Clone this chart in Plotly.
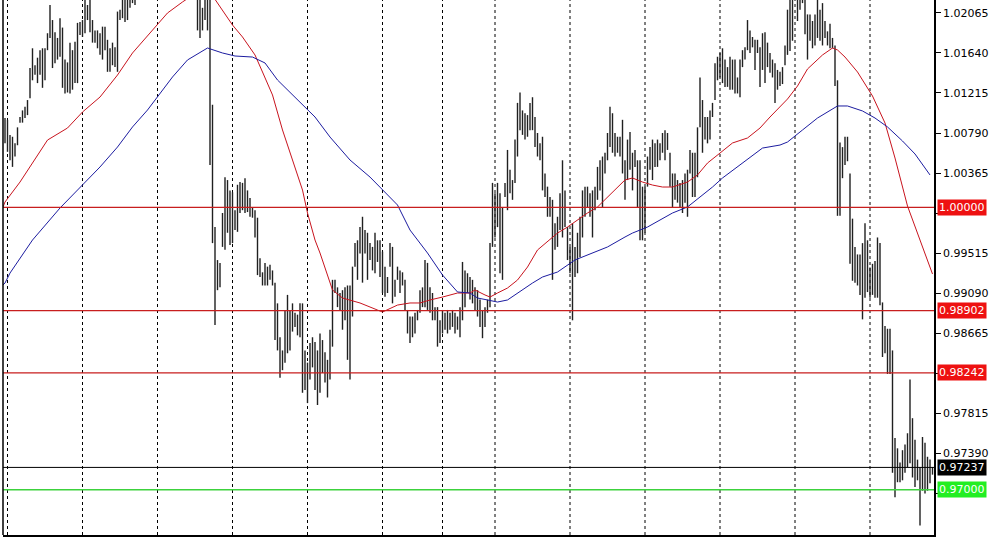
import plotly.graph_objects as go

# ---------------- data (prices) ----------------
# bar highs / lows, segment by segment (left to right)
high_a = [1.0095,1.0093,1.0077,1.0075,1.0068,1.0085,1.0096,1.0103,1.0107,1.0114,
          1.0148,1.0169,1.0151,1.0159,1.0167,1.0169,1.0169,1.0185,1.0215,1.0199,
          1.0186,1.0180,1.0201,1.0191,1.0157,1.0154,1.0175,1.0167,1.0176,1.0196,
          1.0197,1.0199,1.0222,1.0215,1.0222,1.0199,1.0188,1.0188,1.0185,1.0192,
          1.0192,1.0178,1.0169,1.0175,1.0170,1.0208,1.0210,1.0224,1.0223,1.0225,
          1.0228,1.0230,1.0229]
low_a = [1.0068,1.0059,1.0050,1.0043,1.0054,1.0066,1.0090,1.0090,1.0095,1.0098,
         1.0116,1.0135,1.0141,1.0132,1.0141,1.0127,1.0135,1.0167,1.0180,1.0148,
         1.0153,1.0157,1.0160,1.0127,1.0121,1.0122,1.0121,1.0125,1.0132,1.0132,
         1.0183,1.0181,1.0185,1.0199,1.0186,1.0175,1.0175,1.0169,1.0162,1.0157,
         1.0167,1.0144,1.0144,1.0151,1.0149,1.0144,1.0199,1.0201,1.0197,1.0199,
         1.0212,1.0217,1.0215]
high_b = [1.0232,1.0236,1.0240,1.0238,1.0244,1.0248,1.0245,1.0250,1.0253,1.0249,
          1.0255,1.0258,1.0252,1.0256,1.0250,1.0253,1.0247,1.0243,1.0246,1.0240,
          1.0237,1.0241,1.0235,1.0232]
low_b = [1.0223,1.0225,1.0228,1.0226,1.0231,1.0235,1.0232,1.0237,1.0240,1.0236,
         1.0242,1.0245,1.0239,1.0243,1.0237,1.0240,1.0234,1.0230,1.0233,1.0228,
         1.0225,1.0228,1.0224,1.0223]
high_c = [1.0226,1.0224,1.0212,1.0228,1.0225,1.0222,1.0109,0.9979,0.9944,0.9941,
          0.9994,1.0032,1.0029,1.0018,1.0016,0.9997,1.0024,1.0027,1.0026,1.0031,
          1.0018,1.0010,1.0000,0.9997,0.9989,0.9946,0.9931,0.9941,0.9937,0.9939,
          0.9933,0.9920,0.9898,0.9862,0.9848,0.9891,0.9907,0.9891,0.9898,0.9888,
          0.9886,0.9898,0.9898,0.9848,0.9835,0.9856,0.9862,0.9857]
low_c = [1.0188,1.0180,1.0188,1.0199,1.0188,1.0045,0.9962,0.9875,0.9912,0.9915,
         0.9958,0.9955,0.9973,0.9960,0.9962,0.9976,0.9974,0.9994,0.9997,0.9994,
         0.9995,0.9990,0.9989,0.9968,0.9928,0.9926,0.9917,0.9917,0.9917,0.9923,
         0.9917,0.9859,0.9848,0.9819,0.9827,0.9835,0.9845,0.9848,0.9868,0.9873,
         0.9864,0.9862,0.9803,0.9806,0.9792,0.9817,0.9830,0.9806]
high_d = [0.9848,0.9866,0.9859,0.9846,0.9838,0.9870,0.9923,0.9923,0.9915,0.9909,
          0.9912,0.9915,0.9917,0.9917,0.9937,0.9962,0.9965,0.9979,0.9990,0.9976,
          0.9973,0.9962,0.9958,0.9973,0.9965,0.9965,0.9953,0.9937,0.9926,0.9962,
          0.9958,0.9923,0.9937,0.9933,0.9931,0.9923,0.9891,0.9884,0.9884,0.9888,
          0.9891,0.9912,0.9915,0.9944,0.9941,0.9915,0.9909,0.9894,0.9894,0.9880,
          0.9891,0.9888,0.9891,0.9888,0.9891,0.9888,0.9884,0.9894,0.9942,0.9933]
low_d = [0.9790,0.9803,0.9824,0.9814,0.9798,0.9817,0.9852,0.9909,0.9894,0.9891,
         0.9870,0.9880,0.9838,0.9817,0.9884,0.9937,0.9923,0.9951,0.9920,0.9951,
         0.9923,0.9944,0.9933,0.9930,0.9942,0.9926,0.9909,0.9905,0.9909,0.9937,
         0.9898,0.9905,0.9923,0.9909,0.9917,0.9891,0.9866,0.9856,0.9862,0.9866,
         0.9880,0.9888,0.9894,0.9894,0.9891,0.9888,0.9880,0.9880,0.9852,0.9856,
         0.9866,0.9870,0.9866,0.9870,0.9873,0.9866,0.9870,0.9862,0.9880,0.9894]
high_e = [0.9930,0.9926,0.9923,0.9915,0.9912,0.9902,0.9891,0.9894,0.9902,0.9962,
          1.0026,1.0015,1.0026,1.0015,1.0000,1.0026,1.0061,1.0040,1.0029,1.0072,
          1.0111,1.0122,1.0103,1.0100,1.0098,1.0111,1.0117,1.0096,1.0079,1.0068,
          1.0075,1.0036,1.0022,1.0011,1.0008,0.9983,0.9990,1.0015,1.0050,1.0018,
          0.9979,0.9958,0.9983,0.9958,0.9973,0.9990,1.0018,1.0022,1.0022,1.0015,
          1.0018,1.0022,1.0043,1.0050,1.0054,1.0058,1.0079,1.0107,1.0100,1.0079,
          1.0075,1.0075,1.0093]
low_e = [0.9909,0.9902,0.9898,0.9891,0.9884,0.9873,0.9861,0.9873,0.9888,0.9894,
         0.9958,0.9968,0.9979,0.9930,0.9923,1.0011,0.9997,1.0015,1.0008,1.0026,
         1.0054,1.0082,1.0077,1.0072,1.0075,1.0082,1.0082,1.0064,1.0054,1.0050,
         1.0018,1.0011,0.9990,0.9990,0.9923,0.9955,0.9958,0.9976,0.9968,0.9979,
         0.9944,0.9930,0.9880,0.9926,0.9930,0.9947,0.9968,0.9990,1.0000,0.9990,
         0.9968,0.9997,1.0008,1.0018,1.0000,1.0036,1.0050,1.0064,1.0058,1.0054,
         1.0058,1.0054,1.0036]
high_f = [1.0050,1.0072,1.0080,1.0058,1.0061,1.0050,1.0050,1.0022,1.0022,1.0054,
          1.0064,1.0072,1.0068,1.0072,1.0068,1.0079,1.0082,1.0079,1.0058,1.0036,
          1.0036,1.0029,1.0026,1.0029,1.0036,1.0040,1.0061,1.0058,1.0058,1.0085,
          1.0138,1.0114,1.0096,1.0096,1.0103,1.0111,1.0153,1.0160,1.0164,1.0169,
          1.0157,1.0149,1.0160,1.0157,1.0157,1.0138,1.0157,1.0167,1.0170,1.0199,
          1.0188,1.0181,1.0178,1.0178,1.0170,1.0185,1.0186,1.0175,1.0164,1.0157,
          1.0153,1.0146]
low_f = [1.0008,1.0029,1.0040,1.0018,1.0043,1.0000,0.9965,0.9965,0.9973,1.0022,
         1.0040,1.0029,1.0043,1.0043,1.0050,1.0058,1.0050,1.0061,1.0022,1.0000,
         1.0008,1.0005,1.0000,0.9994,1.0005,0.9990,1.0036,1.0011,1.0011,1.0032,
         1.0085,1.0058,1.0072,1.0068,1.0072,1.0096,1.0114,1.0135,1.0138,1.0132,
         1.0128,1.0128,1.0125,1.0125,1.0121,1.0121,1.0117,1.0149,1.0157,1.0167,
         1.0164,1.0170,1.0146,1.0164,1.0128,1.0146,1.0132,1.0149,1.0143,1.0138,
         1.0111,1.0125]
high_g = [1.0144,1.0149,1.0172,1.0210,1.0222,1.0224,1.0232,1.0225,1.0226,1.0230,
          1.0223,1.0205,1.0205,1.0198,1.0205,1.0222,1.0210,1.0217,1.0198,1.0187,
          1.0195,1.0180,1.0172,1.0135,1.0069,1.0064,1.0075,1.0075,1.0036,0.9988,
          0.9958,0.9950,0.9950,0.9962,0.9983,0.9965,0.9936,0.9940,0.9943,0.9968,
          0.9962,0.9899,0.9874,0.9871,0.9871]
low_g = [1.0129,1.0131,1.0151,1.0162,1.0166,1.0177,1.0221,1.0198,1.0210,1.0217,
         1.0184,1.0157,1.0177,1.0169,1.0172,1.0180,1.0177,1.0172,1.0180,1.0172,
         1.0169,1.0169,1.0129,0.9991,0.9991,1.0031,1.0045,1.0049,0.9940,0.9922,
         0.9920,0.9917,0.9907,0.9881,0.9904,0.9910,0.9904,0.9907,0.9904,0.9904,
         0.9896,0.9841,0.9845,0.9823,0.9823]
high_h = [0.9848,0.9755,0.9744,0.9729,0.9742,0.9748,0.9760,0.9817,0.9776,0.9753,
          0.9732,0.9724,0.9756,0.9750,0.9735,0.9732,0.9724]
low_h = [0.9718,0.9692,0.9708,0.9708,0.9710,0.9718,0.9724,0.9728,0.9713,0.9703,
         0.9710,0.9662,0.9699,0.9696,0.9699,0.9707,0.9716]

highs = high_a + high_b + high_c + high_d + high_e + high_f + high_g + high_h
lows = low_a + low_b + low_c + low_d + low_e + low_f + low_g + low_h

# moving averages (bar index, value)
red_idx = [-1,0,6,11,17,25,31,38,45,51,58,65,71,77,84,91,95,100,103,107,111,115,119,121,
           124,126,131,135,142,149,151,157,162,166,170,175,181,186,188,192,194,197,
           201,205,209,213,217,221,225,229,233,237,241,245,248,251,255,259,263,267,
           273,277,281,286,291,297,302,306,310,313,317,321,327,331,333,336,341,347,
           352,356,361,367,371]
red_val = [0.99990,1.00057,1.00269,1.00471,1.00715,1.00843,1.01013,1.01172,1.01406,1.01640,
           1.01852,1.02065,1.02182,1.0229,1.0221,1.01937,1.01810,1.01619,1.01438,
           1.01194,1.00822,1.00503,1.00184,0.99940,0.99653,0.99515,0.99122,0.99037,
           0.98984,0.98909,0.98888,0.98962,0.98984,0.98984,0.99016,0.99047,0.99090,
           0.99090,0.99122,0.99069,0.99047,0.99090,0.99143,0.99228,0.99366,0.99547,
           0.99632,0.99727,0.99791,0.99865,0.99940,1.00004,1.00110,1.00216,1.00291,
           1.00312,1.00269,1.00237,1.00216,1.00216,1.00269,1.00344,1.00471,1.00577,
           1.00684,1.00737,1.00843,1.00960,1.01066,1.01151,1.01289,1.01470,1.01619,
           1.01693,1.01672,1.01597,1.01438,1.01183,1.00896,1.00524,1.00014,0.99579,
           0.99292]
blue_idx = [-1,0,2,11,22,30,38,45,51,57,62,67,73,81,87,92,99,104,109,116,124,130,138,146,
            151,157,162,169,175,181,186,189,193,197,201,205,211,215,221,228,235,241,
            248,251,257,262,267,273,278,283,287,293,298,303,310,313,319,325,333,337,
            343,348,353,359,364,370]
blue_val = [0.99170,0.99196,0.99302,0.99653,0.99993,1.00216,1.00429,1.00641,1.00854,1.01034,
            1.01215,1.01385,1.01566,1.01693,1.01640,1.01608,1.01597,1.01534,1.01353,
            1.01172,1.00960,1.00747,1.00503,1.00322,1.00184,1.00025,0.99759,0.99515,
            0.99281,0.99101,0.99090,0.99037,0.99016,0.98994,0.99016,0.99090,0.99196,
            0.99260,0.99313,0.99441,0.99515,0.99579,0.99685,0.99727,0.99791,0.99865,
            0.99940,1.00004,1.00110,1.00216,1.00312,1.00429,1.00535,1.00630,1.00662,
            1.00694,1.00822,1.00949,1.01077,1.01077,1.01024,1.00949,1.00854,1.00705,
            1.00567,1.00344]

# period separators (bar index)
separator_idx = [1, 31, 61, 91, 121, 151, 175, 196, 226, 256, 286, 316, 346]

# price levels
red_levels = [1.00000, 0.98902, 0.98242]
bid_price = 0.97237
green_level = 0.97000

# right price scale (labels covered by the level boxes are left blank)
tick_vals = [1.02065, 1.01640, 1.01215, 1.00790, 1.00365, 0.99940, 0.99515,
             0.99090, 0.98665, 0.98240, 0.97815, 0.97390, 0.96965]
hidden_ticks = [0.99940, 0.98240, 0.96965]
tick_text = ["" if v in hidden_ticks else "%.5f" % v for v in tick_vals]

y_min, y_max = 0.96519, 1.02203

# ---------------- figure ----------------
bx, by = [], []
for i, (h, l) in enumerate(zip(highs, lows)):
    bx += [i, i, None]
    by += [l, h, None]

fig = go.Figure()
fig.add_trace(go.Scatter(x=bx, y=by, mode="lines",
                         line=dict(color="#202020", width=1.4),
                         hoverinfo="skip", showlegend=False))
fig.add_trace(go.Scatter(x=red_idx, y=red_val, mode="lines",
                         line=dict(color="#c8141e", width=1),
                         hoverinfo="skip", showlegend=False))
fig.add_trace(go.Scatter(x=blue_idx, y=blue_val, mode="lines",
                         line=dict(color="#1c1ca0", width=1),
                         hoverinfo="skip", showlegend=False))

shapes = []
for s in separator_idx:
    shapes.append(dict(type="line", xref="x", yref="paper", x0=s, x1=s, y0=0, y1=1,
                       line=dict(color="black", width=1, dash="3px,3px"), layer="below"))
for lv in red_levels:
    shapes.append(dict(type="line", xref="paper", yref="y", x0=0, x1=1, y0=lv, y1=lv,
                       line=dict(color="#c81e1e", width=1.2)))
shapes.append(dict(type="line", xref="paper", yref="y", x0=0, x1=1, y0=bid_price, y1=bid_price,
                   line=dict(color="black", width=1)))
shapes.append(dict(type="line", xref="paper", yref="y", x0=0, x1=1, y0=green_level, y1=green_level,
                   line=dict(color="#3cd23c", width=1.3)))
shapes.append(dict(type="line", xref="paper", yref="paper", x0=0, x1=0, y0=0, y1=1,
                   line=dict(color="black", width=1.5)))

annotations = []
def price_label(v, bg):
    annotations.append(dict(x=1, xref="paper", xanchor="left", xshift=3,
                            y=v, yref="y", yanchor="middle", text="%.5f" % v,
                            showarrow=False, bgcolor=bg, borderpad=1,
                            font=dict(family="DejaVu Sans", size=11, color="white")))
for lv in red_levels:
    price_label(lv, "#ee1111")
price_label(bid_price, "black")
price_label(green_level, "#22ee22")

fig.update_layout(
    width=1001, height=538,
    margin=dict(l=3, r=67, t=0, b=3),
    paper_bgcolor="white", plot_bgcolor="white",
    showlegend=False, hovermode=False,
    shapes=shapes, annotations=annotations,
    xaxis=dict(range=[-0.8, 371.6], showgrid=False, zeroline=False,
               showticklabels=False, ticks="", showline=True,
               linecolor="black", linewidth=1.5),
    yaxis=dict(range=[y_min, y_max], side="right", showgrid=False, zeroline=False,
               tickmode="array", tickvals=tick_vals, ticktext=tick_text,
               ticks="outside", ticklen=5, tickcolor="black", tickwidth=1,
               showline=True, linecolor="black", linewidth=1.5,
               tickfont=dict(family="DejaVu Sans", size=11, color="black")),
)

fig.write_html("out.html", config={"displayModeBar": False},
               post_script="document.body.style.margin='0';document.body.style.overflow='hidden';")
